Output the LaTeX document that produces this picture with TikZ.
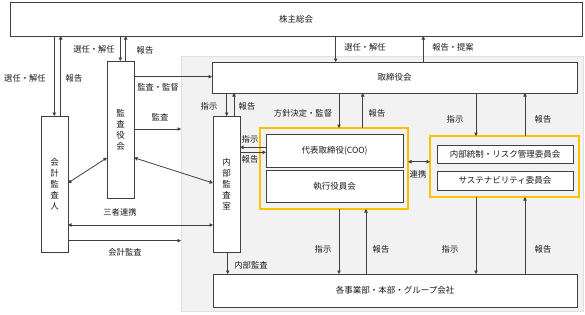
\documentclass[tikz,border=0pt]{standalone}
\usepackage{fontspec}
\newfontfamily\cjk{Noto Sans CJK JP}
\usetikzlibrary{arrows.meta}
\definecolor{ln}{HTML}{404040}
\definecolor{bgc}{HTML}{F2F2F2}
\definecolor{yl}{HTML}{FFC000}
\definecolor{tx}{HTML}{1A1A1A}
\begin{document}
\begin{tikzpicture}[x=1pt,y=-1pt,
  box/.style={draw=ln, line width=0.9pt, fill=white, inner sep=0pt, outer sep=0pt, anchor=north west,
    font=\cjk\fontsize{8.5}{11}\selectfont, text=tx, align=center},
  ybox/.style={draw=yl, line width=1.6pt, inner sep=0pt, outer sep=0pt, anchor=north west},
  lbl/.style={font=\cjk\fontsize{8.3}{10}\selectfont, text=tx, inner sep=0pt},
  arr/.style={draw=ln, line width=0.8pt, -{Triangle[length=3.5pt,width=3.5pt]}},
  darr/.style={draw=ln, line width=0.8pt, {Triangle[length=3.5pt,width=3.5pt]}-{Triangle[length=3.5pt,width=3.5pt]}}]
\useasboundingbox (0,0) rectangle (585,314);
% background
\node[fill=bgc, draw=black!12, line width=0.5pt, anchor=north west, minimum width=402pt, minimum height=255pt, inner sep=0pt, outer sep=0pt] (bg) at (181,56) {};
% boxes
\node[box, minimum width=572pt, minimum height=34pt] (kabu) at (10,2) {株主総会};
\node[box, minimum width=27pt, minimum height=136pt] (kaikei) at (41,116) {会\\計\\監\\査\\人};
\node[box, minimum width=27pt, minimum height=137pt] (kansa) at (107,61) {監\\査\\役\\会};
\node[box, minimum width=27pt, minimum height=136pt] (naibu) at (213,116) {内\\部\\監\\査\\室};
\node[box, minimum width=365pt, minimum height=31pt] (tori) at (212,62) {取締役会};
\node[ybox, minimum width=148pt, minimum height=81pt] (y1) at (260,128) {};
\node[box, minimum width=137pt, minimum height=33pt] (coo) at (266,134) {代表取締役(COO)};
\node[box, minimum width=137pt, minimum height=32pt] (shikkou) at (266,170) {執行役員会};
\node[ybox, minimum width=149pt, minimum height=61pt] (y2) at (430,136) {};
\node[box, minimum width=136pt, minimum height=18pt] (risk) at (437,145) {内部統制・リスク管理委員会};
\node[box, minimum width=136pt, minimum height=19pt] (sust) at (437,171) {サステナビリティ委員会};
\node[box, minimum width=364pt, minimum height=33pt] (bottom) at (213,274) {各事業部・本部・グループ会社};
% shareholders <-> auditors
\draw[arr] (54.3,0 |- kabu.south) -- (54.3,0 |- kaikei.north);
\draw[arr] (60.7,0 |- kaikei.north) -- (60.7,0 |- kabu.south);
\node[lbl] (l1) at (25,78) {選任・解任};
\node[lbl] (l2) at (74,78) {報告};
\draw[arr] (120.3,0 |- kabu.south) -- (120.3,0 |- kansa.north);
\draw[arr] (125.7,0 |- kansa.north) -- (125.7,0 |- kabu.south);
\node[lbl] (l3) at (94,49) {選任・解任};
\node[lbl] (l4) at (145,50) {報告};
% shareholders <-> board
\draw[arr] (335.7,0 |- kabu.south) -- (335.7,0 |- tori.north);
\draw[arr] (423.3,0 |- tori.north) -- (423.3,0 |- kabu.south);
\node[lbl] (l5) at (365,47) {選任・解任};
\node[lbl] (l6) at (453,47) {報告・提案};
% audit board
\draw[arr] (kansa.east |- 0,76.7) -- (tori.west |- 0,76.7);
\node[lbl] (l7) at (158,87) {監査・監督};
\draw[arr] (kansa.east |- 0,129) -- (bg.west |- 0,129);
\node[lbl] (l8) at (160,117) {監査};
\draw[darr] (kaikei.east |- 0,183) -- (kansa.west |- 0,157.7);
\draw[darr] (kansa.east |- 0,157.7) -- (naibu.west |- 0,183);
\node[lbl] (l9) at (120,212) {三者連携};
\draw[darr] (kaikei.east |- 0,225) -- (naibu.west |- 0,225);
\draw[arr] (kaikei.east |- 0,240.7) -- (bg.west |- 0,240.7);
\node[lbl] (l10) at (125,252) {会計監査};
% board <-> internal audit
\draw[arr] (226.7,0 |- tori.south) -- (226.7,0 |- naibu.north);
\draw[arr] (234,0 |- naibu.north) -- (234,0 |- tori.south);
\node[lbl] (l11) at (209,106) {指示};
\node[lbl] (l12) at (247,106) {報告};
% board <-> executive group
\draw[arr] (339,0 |- tori.south) -- (339,0 |- y1.north);
\draw[arr] (362.7,0 |- y1.north) -- (362.7,0 |- tori.south);
\node[lbl] (l13) at (303,113) {方針決定・監督};
\node[lbl] (l14) at (377,113) {報告};
% internal audit <-> COO
\draw[arr] (coo.west |- 0,147.3) -- (naibu.east |- 0,147.3);
\draw[arr] (naibu.east |- 0,152.3) -- (coo.west |- 0,152.3);
\node[lbl] (l15) at (250,139.5) {指示};
\node[lbl] (l16) at (250,159) {報告};
% link between groups
\draw[darr] (y1.east |- 0,161.7) -- (y2.west |- 0,161.7);
\node[lbl] (l17) at (418,174) {連携};
% board <-> committees
\draw[arr] (476,0 |- tori.south) -- (476,0 |- y2.north);
\draw[arr] (525,0 |- y2.north) -- (525,0 |- tori.south);
\node[lbl] (l18) at (455,119) {指示};
\node[lbl] (l19) at (543,119) {報告};
% groups <-> divisions
\draw[arr] (339,0 |- y1.south) -- (339,0 |- bottom.north);
\draw[arr] (366,0 |- bottom.north) -- (366,0 |- y1.south);
\node[lbl] (l20) at (323,249) {指示};
\node[lbl] (l21) at (381,249) {報告};
\draw[arr] (476,0 |- y2.south) -- (476,0 |- bottom.north);
\draw[arr] (525,0 |- bottom.north) -- (525,0 |- y2.south);
\node[lbl] (l22) at (450,249) {指示};
\node[lbl] (l23) at (543,249) {報告};
% internal audit -> divisions
\draw[arr] (227.7,0 |- naibu.south) -- (227.7,0 |- bottom.north);
\node[lbl] (l24) at (251,265) {内部監査};
\end{tikzpicture}
\end{document}
